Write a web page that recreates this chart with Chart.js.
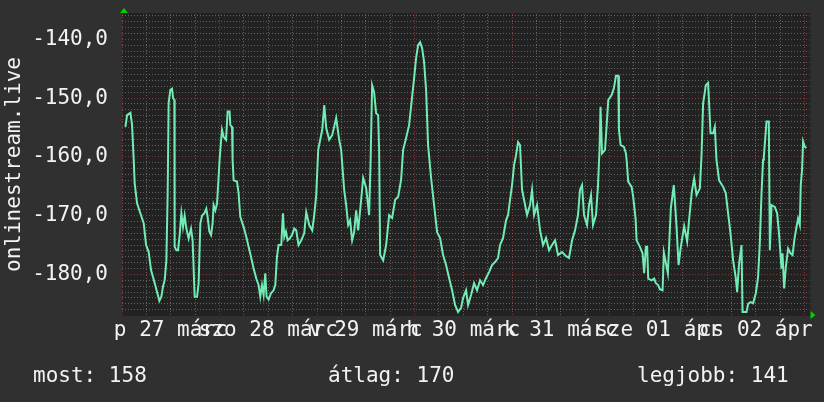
<!DOCTYPE html>
<html><head><meta charset="utf-8">
<script src="https://cdn.jsdelivr.net/npm/chart.js@4"></script>
<style>
html,body{margin:0;padding:0;background:#303030;}
#wrap{position:relative;width:824px;height:402px;}
canvas{display:block}
</style></head><body>
<div id="wrap"><canvas id="c" width="824" height="402"></canvas></div>
<script>
// hours since 27 March 00:00
const hours = [0.84,1.25,2.07,2.48,2.88,3.12,3.71,4.52,5.34,5.93,6.57,7.16,7.97,8.63,9.20,9.69,10.11,10.50,10.92,11.24,11.48,11.90,12.32,12.57,12.89,12.96,13.38,13.79,14.19,14.61,15.02,15.42,15.84,16.40,16.99,17.38,17.88,18.47,18.86,19.28,19.70,20.26,20.75,21.07,21.49,21.91,22.30,22.55,22.97,23.38,23.78,24.02,24.20,24.61,25.01,25.60,25.99,26.48,26.66,27.08,27.22,27.47,28.30,28.70,29.11,29.93,30.59,31.16,31.75,32.39,33.05,33.62,34.03,34.45,34.85,35.26,35.58,36.08,36.67,37.30,37.72,38.14,38.53,39.20,39.61,39.93,40.35,40.75,41.24,41.83,42.39,42.88,43.45,
44.11,44.85,45.34,46.08,46.82,47.31,47.80,48.29,48.78,49.28,49.77,50.26,50.99,51.73,52.71,53.45,53.94,54.68,55.17,55.66,56.15,56.64,57.14,57.63,58.12,58.86,59.35,60.09,60.82,61.19,61.56,62.05,62.54,63.04,63.28,63.53,64.27,65.01,65.74,66.48,67.22,67.96,68.69,69.19,69.92,70.66,71.40,71.89,72.38,72.87,73.37,73.86,74.35,74.84,75.33,76.07,76.81,77.55,78.29,79.02,79.76,80.50,81.24,81.97,82.71,83.45,83.94,84.68,85.17,85.91,86.65,87.38,88.12,88.86,89.60,90.34,91.07,91.81,92.55,93.04,93.78,94.52,95.01,95.50,96.00,96.49,96.98,97.47,97.96,98.46,98.95,99.69,100.42,100.92,101.41,102.15,102.89,103.62,104.36,105.10,105.84,106.58,107.31,108.30,109.28,110.02,110.76,111.50,112.23,112.72,113.22,113.71,114.45,114.94,115.43,115.92,116.66,117.15,117.52,117.77,118.14,118.88,119.28,119.68,120.51,121.07,121.56,122.13,122.30,122.72,123.53,124.02,124.19,124.58,125.42,125.81,126.40,126.65,127.46,128.12,128.51,128.93,129.25,129.50,130.33,130.97,131.39,131.96,132.37,133.04,133.36,134.34,135.08,135.81,136.48,136.97,137.53,138.35,139.09,139.58,140.24,140.81,141.40,142.21,142.63,143.02,143.69,144.25,144.84,145.48,145.90,146.31,146.95,147.94,148.60,149.17,149.76,150.40,151.06,151.39,151.88,152.47,152.72,153.70,154.10,154.69,155.33,155.99,156.55,156.97,157.39,157.78,157.96,158.62,159.19,159.44,159.86,160.67,161.24,161.73,162.31,162.56,162.96,163.38,163.94,164.53,165.02,165.51,166.00,166.39,166.81,167.05,167.37,167.62,168.04,168.45];
const values = [-154.9,-152.9,-152.5,-154.6,-160.5,-164.5,-167.9,-169.6,-171.3,-175.0,-176.2,-179.3,-181.3,-183.0,-184.5,-183.8,-182.0,-181.0,-177.6,-166.2,-150.8,-148.6,-148.4,-150.0,-150.3,-175.3,-175.9,-175.9,-173.3,-169.6,-171.9,-170.0,-172.2,-173.9,-172.2,-174.2,-183.8,-183.8,-181.5,-171.3,-170.0,-169.6,-168.8,-170.2,-172.7,-173.3,-171.3,-168.2,-169.1,-168.0,-163.4,-160.5,-158.8,-155.4,-156.6,-157.1,-152.3,-152.3,-154.6,-154.9,-160.5,-164.0,-164.2,-166.2,-170.2,-171.9,-173.6,-175.3,-177.0,-179.0,-180.7,-181.8,-183.8,-181.8,-183.5,-179.8,-183.8,-184.3,-183.2,-182.7,-181.8,-177.0,-175.0,-175.0,-169.6,-173.6,-172.7,-174.2,-173.9,-173.3,-172.2,-172.5,-175.0,
-174.2,-173.0,-169.4,-171.6,-172.5,-169.9,-166.5,-158.8,-157.1,-155.4,-151.2,-155.1,-157.1,-156.3,-153.4,-157.1,-158.8,-165.6,-168.2,-171.6,-170.8,-174.2,-172.8,-169.1,-172.5,-167.3,-163.6,-165.3,-169.9,-160.5,-147.8,-149.0,-152.6,-152.9,-158.8,-176.7,-177.6,-175.0,-169.9,-170.4,-167.3,-166.8,-163.9,-158.8,-156.8,-154.6,-149.8,-146.6,-143.2,-141.0,-140.5,-141.5,-143.9,-148.6,-158.0,-163.6,-168.2,-172.8,-173.8,-176.7,-178.4,-180.6,-182.7,-185.2,-186.4,-185.7,-184.0,-182.7,-185.2,-183.5,-181.5,-182.7,-181.0,-181.8,-180.6,-179.6,-178.4,-177.9,-177.2,-175.0,-173.8,-170.8,-169.9,-167.3,-164.8,-161.4,-159.7,-157.5,-158.0,-165.6,-167.3,-169.9,-168.2,-165.6,-169.9,-168.2,-172.5,-175.0,-173.8,-175.9,-175.0,-174.2,-176.7,-176.2,-176.9,-177.2,-174.2,-172.5,-169.9,-165.6,-164.8,-169.9,-171.6,-168.2,-166.5,-171.6,-169.9,-164.8,-158.8,-151.5,-159.4,-158.8,-154.6,-150.3,-149.5,-148.3,-146.2,-146.2,-155.4,-158.0,-158.3,-159.4,-160.5,-164.2,-165.1,-166.8,-170.5,-174.2,-175.3,-176.4,-179.8,-175.3,-175.3,-180.7,-181.0,-180.7,-181.5,-181.8,-182.5,-182.7,-176.3,-179.8,-168.7,-164.8,-171.9,-178.4,-175.3,-171.8,-174.4,-170.6,-165.9,-163.7,-166.5,-165.4,-159.7,-150.9,-147.8,-147.4,-156.0,-156.0,-154.9,-160.5,-164.0,-165.1,-166.2,-169.6,-173.0,-177.6,-180.6,-183.0,-178.1,-175.0,-186.4,-186.4,-185.0,-184.7,-184.9,-183.2,-180.4,-174.7,-166.2,-160.5,-160.0,-154.0,-154.0,-175.9,-168.2,-168.5,-169.6,-173.3,-179.0,-176.4,-182.4,-178.7,-175.6,-176.4,-176.7,-173.9,-171.9,-170.5,-171.6,-164.8,-162.2,-157.4,-158.3,-158.5];

const dayLabels = ["p 27 márc","szo 28 márc","v 29 márc","h 30 márc","k 31 márc","sze 01 ápr","cs 02 ápr"];
const yMajorTicks = [-180,-170,-160,-150,-140];
const legendTexts = ["most: 158","átlag: 170","legjobb: 141"];
const axisTitle = "onlinestream.live";

const FONT = "'DejaVu Sans Mono', 'Liberation Mono', monospace";
const TEXT = '#f2f2f2';
const GRID_MINOR = 'rgba(120,120,120,0.75)';
const GRID_MAJOR = 'rgba(150,60,60,0.85)';
const LINE = '#70ecb4';

const X_MIN = 0, X_MAX = 169.2, Y_MIN = -186.9, Y_MAX = -135.7;

const decor = {
  id: 'decor',
  beforeDraw(chart) {
    const {ctx, chartArea: a} = chart;
    ctx.save();
    ctx.fillStyle = '#222222';
    ctx.fillRect(a.left, a.top - 1, a.right - a.left + 1, a.bottom - a.top + 2);
    ctx.restore();
  },
  afterDraw(chart) {
    const {ctx, chartArea: a} = chart;
    ctx.save();
    ctx.fillStyle = '#00d000';
    ctx.beginPath();
    ctx.moveTo(a.left - 2, a.top - 1);
    ctx.lineTo(a.left + 6, a.top - 1);
    ctx.lineTo(a.left + 2, a.top - 6);
    ctx.closePath(); ctx.fill();
    ctx.beginPath();
    ctx.moveTo(a.right + 1, a.bottom - 4);
    ctx.lineTo(a.right + 1, a.bottom + 4);
    ctx.lineTo(a.right + 6, a.bottom);
    ctx.closePath(); ctx.fill();
    ctx.fillStyle = TEXT;
    ctx.font = '21px ' + FONT;
    ctx.textBaseline = 'alphabetic';
    ctx.textAlign = 'left';
    const xs = [33, 328, 637];
    legendTexts.forEach((t, i) => ctx.fillText(t, xs[i], 382));
    ctx.restore();
  }
};

new Chart(document.getElementById('c'), {
  type: 'line',
  data: {
    datasets: [{
      data: hours.map((h, i) => ({x: h, y: values[i]})),
      borderColor: LINE,
      borderWidth: 2,
      pointRadius: 0,
      tension: 0,
      fill: false
    }]
  },
  options: {
    responsive: false,
    animation: false,
    devicePixelRatio: 1,
    layout: {padding: {left: 0, top: 14, right: 14.5, bottom: 47}},
    plugins: {legend: {display: false}, tooltip: {enabled: false}},
    scales: {
      x: {
        type: 'linear', min: X_MIN, max: X_MAX,
        afterBuildTicks(scale) {
          const t = [];
          for (let v = 0; v <= 168; v += 6) t.push({value: v});
          scale.ticks = t;
        },
        afterFit(scale) { scale.height = 40; scale.paddingLeft = 0; scale.paddingRight = 0; },
        ticks: {
          autoSkip: false, maxRotation: 0, minRotation: 0,
          color: TEXT, font: {family: FONT, size: 21}, padding: 3,
          callback: (v) => (v % 24 === 12) ? dayLabels[(v - 12) / 24] : ''
        },
        grid: {
          drawTicks: false,
          color: (c) => (c.tick && c.tick.value % 24 === 0) ? GRID_MAJOR : GRID_MINOR,
          lineWidth: 1
        },
        border: {display: false, dash: [1, 2]}
      },
      y: {
        type: 'linear', min: Y_MIN, max: Y_MAX,
        afterBuildTicks(scale) {
          const t = [];
          for (let v = Math.ceil(Y_MIN); v <= Math.floor(Y_MAX); v++) t.push({value: v});
          scale.ticks = t;
        },
        afterFit(scale) { scale.width = 122; scale.paddingTop = 0; scale.paddingBottom = 0; },
        ticks: {
          autoSkip: false, color: TEXT, font: {family: FONT, size: 21}, padding: 14,
          callback: (v) => yMajorTicks.includes(v) ? v.toFixed(1).replace('.', ',') : ''
        },
        title: {display: true, text: axisTitle, color: TEXT, font: {family: FONT, size: 21}, padding: {top: 2, bottom: 2}},
        grid: {
          drawTicks: false,
          color: (c) => (c.tick && yMajorTicks.includes(c.tick.value)) ? GRID_MAJOR : GRID_MINOR,
          lineWidth: 1
        },
        border: {display: false, dash: [1, 2]}
      }
    }
  },
  plugins: [decor]
});
</script>
</body></html>
